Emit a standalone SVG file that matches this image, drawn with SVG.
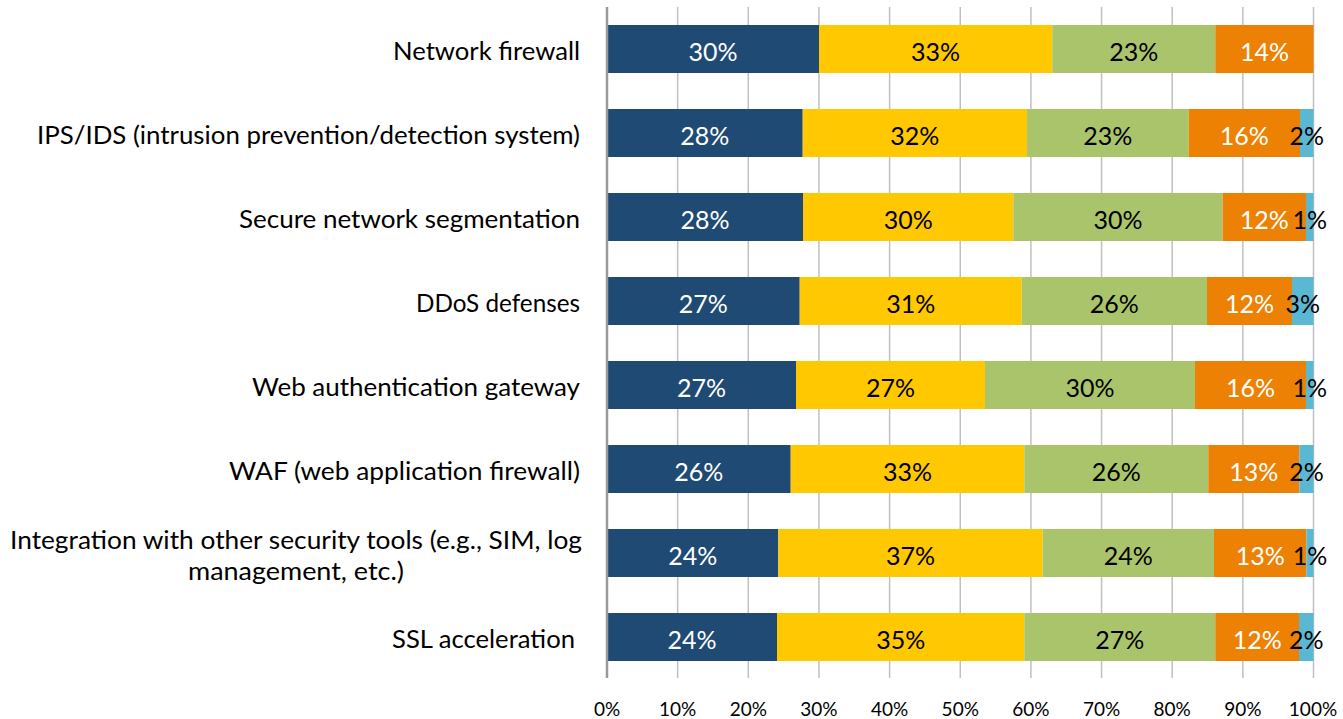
<svg xmlns="http://www.w3.org/2000/svg" width="1343" height="719" viewBox="0 0 1343 719">
<style>
text{font-family:Lato,"Liberation Sans",sans-serif;}
.cat{font-size:24.5px;fill:#000;text-anchor:end;}
.catm{font-size:24.5px;fill:#000;text-anchor:middle;}
.tick{font-size:19px;fill:#000;text-anchor:middle;}
.v{font-size:25px;text-anchor:middle;}
.w{fill:#fff;}
.k{fill:#000;}
.grid{stroke:#c0c0c0;stroke-width:1.5;}
.axis{stroke:#9a9a9a;stroke-width:2.5;}
.c1{fill:#1f4a73;}
.c2{fill:#ffc800;}
.c3{fill:#aac46c;}
.c4{fill:#ec8104;}
.c5{fill:#5bb8d3;}
</style>
<rect width="1343" height="719" fill="#fff"/>
<g id="grid">
<line class="grid" x1="677.65" y1="7" x2="677.65" y2="678"/>
<line class="grid" x1="748.3" y1="7" x2="748.3" y2="678"/>
<line class="grid" x1="818.95" y1="7" x2="818.95" y2="678"/>
<line class="grid" x1="889.6" y1="7" x2="889.6" y2="678"/>
<line class="grid" x1="960.25" y1="7" x2="960.25" y2="678"/>
<line class="grid" x1="1030.9" y1="7" x2="1030.9" y2="678"/>
<line class="grid" x1="1101.55" y1="7" x2="1101.55" y2="678"/>
<line class="grid" x1="1172.2" y1="7" x2="1172.2" y2="678"/>
<line class="grid" x1="1242.85" y1="7" x2="1242.85" y2="678"/>
<line class="grid" x1="1313.5" y1="7" x2="1313.5" y2="678"/>
</g>
<g id="ticks">
<text class="tick" x="607" y="716">0%</text>
<text class="tick" x="677.65" y="716">10%</text>
<text class="tick" x="748.3" y="716">20%</text>
<text class="tick" x="818.95" y="716">30%</text>
<text class="tick" x="889.6" y="716">40%</text>
<text class="tick" x="960.25" y="716">50%</text>
<text class="tick" x="1030.9" y="716">60%</text>
<text class="tick" x="1101.55" y="716">70%</text>
<text class="tick" x="1172.2" y="716">80%</text>
<text class="tick" x="1242.85" y="716">90%</text>
<text class="tick" x="1313" y="716">100%</text>
</g>
<g id="row1">
<rect class="c1" x="607" y="25" width="212" height="48"/>
<rect class="c2" x="819" y="25" width="233.3" height="48"/>
<rect class="c3" x="1052.3" y="25" width="163" height="48"/>
<rect class="c4" x="1215.3" y="25" width="98.2" height="48"/>
<text class="v w" x="713" y="61">30%</text>
<text class="v k" x="935.6" y="61">33%</text>
<text class="v k" x="1133.8" y="61">23%</text>
<text class="v w" x="1264.4" y="61">14%</text>
<text class="cat" x="580" y="60" textLength="187" lengthAdjust="spacingAndGlyphs">Network firewall</text>
</g>
<g id="row2">
<rect class="c1" x="607" y="109" width="195.7" height="48"/>
<rect class="c2" x="802.7" y="109" width="224.3" height="48"/>
<rect class="c3" x="1027" y="109" width="161.7" height="48"/>
<rect class="c4" x="1188.7" y="109" width="111.3" height="48"/>
<rect class="c5" x="1300" y="109" width="13.5" height="48"/>
<text class="v w" x="704.8" y="145">28%</text>
<text class="v k" x="914.8" y="145">32%</text>
<text class="v k" x="1107.8" y="145">23%</text>
<text class="v w" x="1244.3" y="145">16%</text>
<text class="v k" x="1306.7" y="145">2%</text>
<text class="cat" x="580" y="144" textLength="543" lengthAdjust="spacingAndGlyphs">IPS/IDS (intrusion prevention/detection system)</text>
</g>
<g id="row3">
<rect class="c1" x="607" y="193" width="196" height="48"/>
<rect class="c2" x="803" y="193" width="210.3" height="48"/>
<rect class="c3" x="1013.3" y="193" width="209.4" height="48"/>
<rect class="c4" x="1222.7" y="193" width="83.3" height="48"/>
<rect class="c5" x="1306" y="193" width="7.5" height="48"/>
<text class="v w" x="705" y="229">28%</text>
<text class="v k" x="908.2" y="229">30%</text>
<text class="v k" x="1118" y="229">30%</text>
<text class="v w" x="1264.3" y="229">12%</text>
<text class="v k" x="1309.7" y="229">1%</text>
<text class="cat" x="580" y="228" textLength="341" lengthAdjust="spacingAndGlyphs">Secure network segmentation</text>
</g>
<g id="row4">
<rect class="c1" x="607" y="277" width="192.7" height="48"/>
<rect class="c2" x="799.7" y="277" width="222" height="48"/>
<rect class="c3" x="1021.7" y="277" width="185.3" height="48"/>
<rect class="c4" x="1207" y="277" width="85" height="48"/>
<rect class="c5" x="1292" y="277" width="21.5" height="48"/>
<text class="v w" x="703.3" y="313">27%</text>
<text class="v k" x="910.7" y="313">31%</text>
<text class="v k" x="1114.3" y="313">26%</text>
<text class="v w" x="1249.5" y="313">12%</text>
<text class="v k" x="1302.7" y="313">3%</text>
<text class="cat" x="580" y="312" textLength="164" lengthAdjust="spacingAndGlyphs">DDoS defenses</text>
</g>
<g id="row5">
<rect class="c1" x="607" y="361" width="189" height="48"/>
<rect class="c2" x="796" y="361" width="189" height="48"/>
<rect class="c3" x="985" y="361" width="210" height="48"/>
<rect class="c4" x="1195" y="361" width="111" height="48"/>
<rect class="c5" x="1306" y="361" width="7.5" height="48"/>
<text class="v w" x="701.5" y="397">27%</text>
<text class="v k" x="890.5" y="397">27%</text>
<text class="v k" x="1090" y="397">30%</text>
<text class="v w" x="1250.5" y="397">16%</text>
<text class="v k" x="1309.7" y="397">1%</text>
<text class="cat" x="580" y="396" textLength="328" lengthAdjust="spacingAndGlyphs">Web authentication gateway</text>
</g>
<g id="row6">
<rect class="c1" x="607" y="445" width="183.7" height="48"/>
<rect class="c2" x="790.7" y="445" width="233.6" height="48"/>
<rect class="c3" x="1024.3" y="445" width="184" height="48"/>
<rect class="c4" x="1208.3" y="445" width="91" height="48"/>
<rect class="c5" x="1299.3" y="445" width="14.2" height="48"/>
<text class="v w" x="698.8" y="481">26%</text>
<text class="v k" x="907.5" y="481">33%</text>
<text class="v k" x="1116.3" y="481">26%</text>
<text class="v w" x="1253.8" y="481">13%</text>
<text class="v k" x="1306.4" y="481">2%</text>
<text class="cat" x="580" y="480" textLength="351" lengthAdjust="spacingAndGlyphs">WAF (web application firewall)</text>
</g>
<g id="row7">
<rect class="c1" x="607" y="529" width="171.3" height="48"/>
<rect class="c2" x="778.3" y="529" width="264.4" height="48"/>
<rect class="c3" x="1042.7" y="529" width="171.3" height="48"/>
<rect class="c4" x="1214" y="529" width="92.3" height="48"/>
<rect class="c5" x="1306.3" y="529" width="7.2" height="48"/>
<text class="v w" x="692.7" y="565">24%</text>
<text class="v k" x="910.5" y="565">37%</text>
<text class="v k" x="1128.3" y="565">24%</text>
<text class="v w" x="1260.2" y="565">13%</text>
<text class="v k" x="1309.9" y="565">1%</text>
<text class="cat" x="582" y="549" textLength="572" lengthAdjust="spacingAndGlyphs">Integration with other security tools (e.g., SIM, log</text>
<text class="catm" x="296" y="580" textLength="216" lengthAdjust="spacingAndGlyphs">management, etc.)</text>
</g>
<g id="row8">
<rect class="c1" x="607" y="613" width="170" height="48"/>
<rect class="c2" x="777" y="613" width="247.3" height="48"/>
<rect class="c3" x="1024.3" y="613" width="191" height="48"/>
<rect class="c4" x="1215.3" y="613" width="83.7" height="48"/>
<rect class="c5" x="1299" y="613" width="14.5" height="48"/>
<text class="v w" x="692" y="649">24%</text>
<text class="v k" x="900.7" y="649">35%</text>
<text class="v k" x="1119.8" y="649">27%</text>
<text class="v w" x="1257.2" y="649">12%</text>
<text class="v k" x="1306.3" y="649">2%</text>
<text class="cat" x="575" y="648" textLength="183" lengthAdjust="spacingAndGlyphs">SSL acceleration</text>
</g>
<g id="axis">
<line class="axis" x1="607" y1="7" x2="607" y2="678"/>
</g>
</svg>
